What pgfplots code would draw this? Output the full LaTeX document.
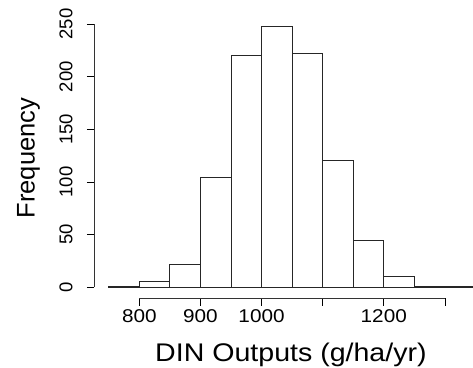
\documentclass[border=0pt]{standalone}
\usepackage{fontspec}
\setmainfont{Liberation Sans}
\newfontfamily\hfont[FakeStretch=1.12]{Liberation Sans}
\usepackage{pgfplots}
\pgfplotsset{compat=1.18}
\begin{document}
\begin{tikzpicture}
\useasboundingbox (-94.5pt,-68.7pt) rectangle (378.5pt,298.3pt);
\begin{axis}[
  at={(0,0)}, anchor=south west,
  scale only axis, width=378.5pt, height=298.3pt,
  xmin=726.7, xmax=1346, ymin=-10.6, ymax=272.9,
  axis lines*=left,
  axis line style={draw=none},
  clip=false,
  tick align=outside,
  major tick length=7.5pt,
  tick style={black, line width=0.6pt},
  xtick={800,900,1000,1100,1200,1300},
  xticklabels={800,900,1000,,1200,},
  ytick={0,50,100,150,200,250},
  /pgf/number format/assume math mode=true,
  xticklabel style={font=\hfont\fontsize{18.5}{20}\selectfont, anchor=base, yshift=-17pt},
  yticklabel style={font=\fontsize{18.5}{20}\selectfont, xshift=-14.5pt, rotate=90, anchor=base},
  xlabel={\hfont DIN Outputs (g/ha/yr)},
  ylabel={Frequency},
  xlabel style={font=\fontsize{25.5}{30}\selectfont, at={(axis description cs:0.519,-0.2126)}, anchor=base},
  ylabel style={font=\fontsize{25.5}{30}\selectfont, at={(axis description cs:-0.1744,0.47)}, anchor=center, rotate=0},
]
\addplot[ybar interval, fill=white, draw=black!85, line width=0.9pt] coordinates {
(750,1) (800,5) (850,22) (900,104) (950,220) (1000,248) (1050,222) (1100,120) (1150,44) (1200,10) (1250,1) (1300,1) (1350,1)
};
\draw[black!80, line width=0.7pt] (axis cs:800,-10.6) -- (axis cs:1300,-10.6);
\draw[black!80, line width=0.7pt] (axis cs:726.7,0) -- (axis cs:726.7,250);
\end{axis}
\end{tikzpicture}
\end{document}
